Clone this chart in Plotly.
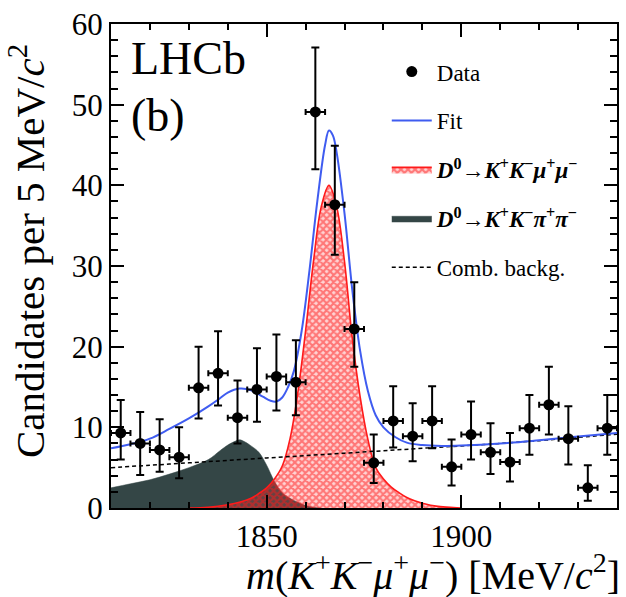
import plotly.graph_objects as go

# ---------------- data ----------------
bin_centers = [1812.5, 1817.5, 1822.5, 1827.5, 1832.5, 1837.5, 1842.5, 1847.5, 1852.5,
               1857.5, 1862.5, 1867.5, 1872.5, 1877.5, 1882.5, 1887.5, 1892.5, 1897.5,
               1902.5, 1907.5, 1912.5, 1917.5, 1922.5, 1927.5, 1932.5, 1937.5]
counts = [9.3, 8.0, 7.2, 6.3, 14.9, 16.7, 11.2, 14.7, 16.3, 15.6, 49.1, 37.6, 22.2,
          5.6, 10.8, 8.9, 10.8, 5.1, 9.1, 6.9, 5.7, 9.9, 12.8, 8.6, 2.5, 9.9]
err_up = [4.1, 3.9, 3.8, 3.7, 5.1, 5.2, 4.6, 5.1, 5.2, 5.2, 8.0, 7.3, 5.8, 3.5, 4.3,
          4.1, 4.3, 3.4, 4.1, 3.6, 3.6, 4.1, 4.7, 4.0, 2.8, 4.1]
err_down = [3.3, 3.9, 2.7, 2.6, 3.8, 4.0, 3.2, 4.0, 4.2, 4.1, 7.1, 6.2, 4.7, 2.5, 3.3,
            3.1, 3.4, 2.3, 3.1, 2.7, 2.4, 3.3, 3.7, 3.2, 1.6, 3.3]
bin_half_width = 2.5

fit_m = [1810, 1815, 1820, 1825, 1830, 1835, 1838, 1840, 1843, 1846, 1849, 1851, 1852.5,
         1854, 1855.5, 1857, 1859, 1861, 1863, 1865, 1866, 1867, 1868, 1870, 1872, 1874,
         1876, 1878, 1880, 1883, 1886, 1890, 1895, 1900, 1910, 1920, 1930, 1940]
fit_val = [7.4, 7.9, 8.6, 9.8, 11.1, 12.6, 13.6, 14.3, 14.8, 14.6, 13.8, 13.3, 13.2,
           13.7, 15.0, 17.0, 22.0, 29.5, 38.0, 45.0, 46.8, 46.2, 44.0, 36.5, 27.0, 19.5,
           14.5, 11.5, 10.0, 8.8, 8.1, 7.8, 7.7, 7.75, 8.0, 8.4, 8.85, 9.3]

sig_m = [1830, 1835, 1840, 1843, 1846, 1848, 1850, 1852, 1854, 1856, 1858, 1860, 1862,
         1864, 1866, 1868, 1870, 1872, 1874, 1876, 1878, 1880, 1882, 1884, 1886, 1888,
         1890, 1894, 1898, 1900]
sig_val = [0.0, 0.1, 0.4, 0.7, 1.2, 1.8, 2.5, 3.6, 5.2, 8.6, 14.3, 22.0, 30.5, 37.3, 40.0,
           37.3, 30.5, 21.0, 13.8, 8.5, 5.0, 3.6, 2.6, 1.9, 1.3, 0.9, 0.6, 0.2, 0.05, 0.0]

kpi_m = [1810, 1815, 1820, 1825, 1830, 1835, 1838, 1840, 1842, 1843, 1844, 1846, 1848,
         1850, 1852, 1854, 1856, 1858, 1860, 1862, 1864]
kpi_val = [2.5, 3.0, 3.5, 4.2, 5.0, 6.0, 7.1, 7.8, 8.3, 8.45, 8.3, 7.7, 6.9, 5.3, 3.3,
           1.9, 1.2, 0.7, 0.3, 0.1, 0.0]

comb_m = [1810, 1820, 1830, 1840, 1850, 1860, 1870, 1880, 1890, 1900, 1910, 1920, 1930, 1940]
comb_val = [5.0, 5.3, 5.6, 5.9, 6.2, 6.5, 6.8, 7.1, 7.4, 7.7, 8.0, 8.35, 8.75, 9.15]

x_range = [1810, 1940]
y_range = [0, 60]

# ---------------- styling ----------------
SERIF = "Liberation Serif, Times New Roman, serif"
BLUE = "#3f5cf0"
DARK = "#344646"
RED = "#ff1a1a"

sig_name = ("<b><i>D</i><sup>0</sup>→<i>K</i><sup>+</sup><i>K</i><sup>−</sup>"
            "<i>μ</i><sup>+</sup><i>μ</i><sup>−</sup></b>")
kpi_name = ("<b><i>D</i><sup>0</sup>→<i>K</i><sup>+</sup><i>K</i><sup>−</sup>"
            "<i>π</i><sup>+</sup><i>π</i><sup>−</sup></b>")

fig = go.Figure()

fig.add_trace(go.Scatter(
    x=kpi_m, y=kpi_val, mode="lines", fill="tozeroy",
    line=dict(color=DARK, width=0.5, shape="spline"), fillcolor=DARK,
    name=kpi_name, legendgroup="d", legendrank=4))

fig.add_trace(go.Scatter(
    x=sig_m, y=sig_val, mode="lines", fill="tozeroy",
    line=dict(color=RED, width=1.6, shape="spline"),
    fillpattern=dict(shape="x", fgcolor=RED, bgcolor="rgba(255,60,60,0.22)",
                     size=5, solidity=0.65),
    name=sig_name, legendgroup="c", legendrank=3))

fig.add_trace(go.Scatter(
    x=comb_m, y=comb_val, mode="lines",
    line=dict(color="black", width=1.5, dash="4px,3px", shape="spline"),
    name="Comb. backg.", legendgroup="e", legendrank=5))

fig.add_trace(go.Scatter(
    x=fit_m, y=fit_val, mode="lines",
    line=dict(color=BLUE, width=2, shape="spline"),
    name="Fit", legendgroup="b", legendrank=2))

fig.add_trace(go.Scatter(
    x=bin_centers, y=counts, mode="markers",
    marker=dict(color="black", size=11, symbol="circle"),
    error_y=dict(type="data", symmetric=False, array=err_up, arrayminus=err_down,
                 color="black", thickness=2, width=4),
    error_x=dict(type="constant", value=bin_half_width, color="black",
                 thickness=2, width=3),
    name="Data", legendgroup="a", legendrank=1))

axis_common = dict(
    showline=True, linecolor="black", linewidth=2, mirror="allticks",
    ticks="inside", tickcolor="black", tickwidth=1.8,
    showgrid=False, zeroline=False, ticklabeloverflow="allow",
    tickfont=dict(family=SERIF, size=31, color="black"),
)

fig.update_xaxes(
    range=x_range, tick0=1850, dtick=50, ticklen=13,
    minor=dict(dtick=10, ticks="inside", ticklen=6, tickcolor="black", tickwidth=1.8),
    **axis_common)

fig.update_yaxes(
    range=y_range, tick0=0, dtick=10, ticklen=13,
    minor=dict(dtick=2, ticks="inside", ticklen=7, tickcolor="black", tickwidth=1.8),
    **axis_common)

# y-axis title (ROOT style: shifted toward the top)
fig.add_annotation(
    text="Candidates per 5 MeV/<i>c</i><sup>2</sup>", textangle=-90,
    xref="paper", yref="paper", x=-0.165, y=0.53, xanchor="center", yanchor="middle",
    showarrow=False, font=dict(family=SERIF, size=41, color="black"))

# x-axis title, right-aligned to the axis end (ROOT style)
fig.add_annotation(
    text="<i>m</i>(<i>K</i><sup>+</sup><i>K</i><sup>−</sup><i>μ</i><sup>+</sup>"
         "<i>μ</i><sup>−</sup>) [MeV/<i>c</i><sup>2</sup>]",
    xref="paper", yref="paper", x=1.01, y=-0.133, xanchor="right", yanchor="middle",
    showarrow=False, font=dict(family=SERIF, size=40, color="black"))

fig.add_annotation(text="LHCb", xref="paper", yref="paper", x=0.035, y=0.985,
                   xanchor="left", yanchor="top", showarrow=False,
                   font=dict(family=SERIF, size=46, color="black"))
fig.add_annotation(text="(b)", xref="paper", yref="paper", x=0.035, y=0.868,
                   xanchor="left", yanchor="top", showarrow=False,
                   font=dict(family=SERIF, size=46, color="black"))

fig.update_layout(
    width=626, height=597,
    margin=dict(l=111, r=7, t=14, b=89),
    paper_bgcolor="white", plot_bgcolor="white",
    showlegend=True,
    legend=dict(x=0.545, y=0.946, xanchor="left", yanchor="top",
                bgcolor="rgba(0,0,0,0)", borderwidth=0,
                traceorder="grouped", tracegroupgap=16,
                font=dict(family=SERIF, size=23, color="black"),
                itemwidth=40),
)

fig.write_html("out.html")
